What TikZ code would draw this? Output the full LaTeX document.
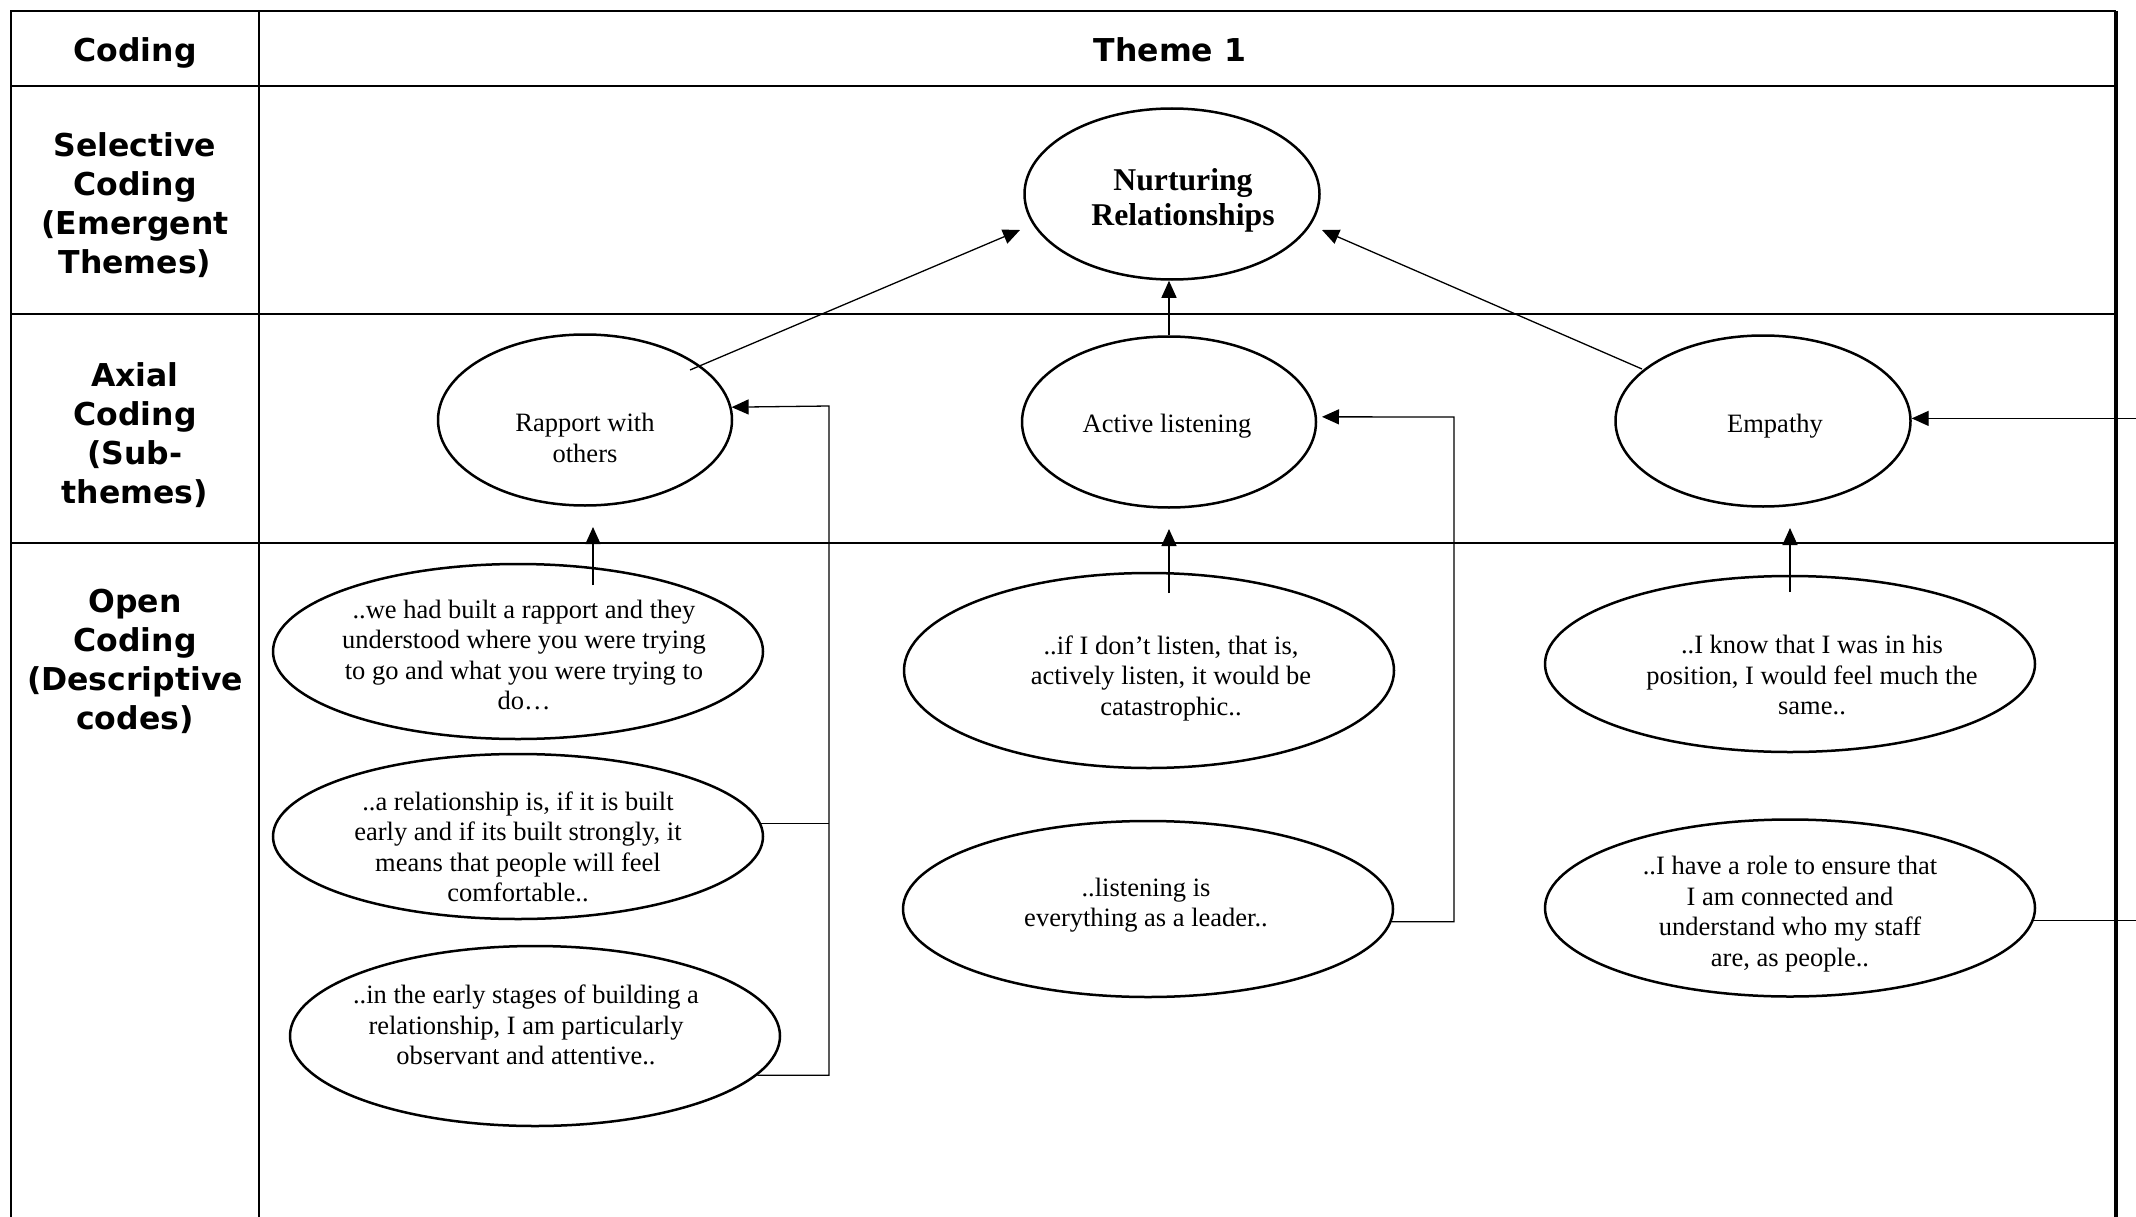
\documentclass[tikz,border=0pt]{standalone}
\usepackage{fontspec}
\setmainfont{Liberation Serif}
\newfontfamily\hdfont{DejaVu Sans}
\usetikzlibrary{shapes.geometric,arrows.meta,calc}
\tikzset{
  hd/.style={font=\hdfont\bfseries\fontsize{31.5}{39}\selectfont, align=center, inner sep=0pt},
  ell/.style={draw, ellipse, line width=2.5pt, inner sep=0pt},
  qt/.style={font=\fontsize{26.5}{30.5}\selectfont, align=center, inner sep=0pt},
  conn/.style={line width=1.3pt},
  arr/.style={conn, -{Triangle[length=17pt,width=15pt]}},
  gridline/.style={line width=2.5pt}
}
\begin{document}
\begin{tikzpicture}[x=1pt,y=-1pt]
\useasboundingbox (0,0) rectangle (2136,1217);
% table
\draw[gridline] (11,1217) -- (11,11) -- (2116,11);
\draw[gridline,line width=3.2pt] (2116,11) -- (2116,1217);
\draw[gridline] (259,11) -- (259,1217);
\draw[gridline] (11,86) -- (2116,86);
\draw[gridline] (11,314) -- (2116,314);
\draw[gridline] (11,543) -- (2116,543);
% headers
\node[hd] (hCoding) at (135,53) {Coding};
\node[hd] (hTheme) at (1170,50) {Theme 1};
\node[hd] (hSel) at (135,205) {Selective\\Coding\\(Emergent\\Themes)};
\node[hd] (hAx) at (135,435) {Axial\\Coding\\(Sub-\\themes)};
\node[hd] (hOpen) at (135,661) {Open\\Coding\\(Descriptive\\codes)};
% ellipses
\node[ell, minimum width=295pt, minimum height=171pt] (Nurt) at (1172,194) {};
\node[ell, minimum width=294pt, minimum height=171pt] (Rapport) at (585,420) {};
\node[ell, minimum width=294pt, minimum height=171pt] (Active) at (1169,422) {};
\node[ell, minimum width=295pt, minimum height=171pt] (Empathy) at (1763,421) {};
\node[ell, minimum width=490pt, minimum height=175pt] (R1) at (518,651.5) {};
\node[ell, minimum width=490pt, minimum height=165pt] (R2) at (518,836.5) {};
\node[ell, minimum width=490pt, minimum height=180pt] (R3) at (535,1036) {};
\node[ell, minimum width=490pt, minimum height=195pt] (L1) at (1149,670.5) {};
\node[ell, minimum width=490pt, minimum height=176pt] (L2) at (1148,909) {};
\node[ell, minimum width=490pt, minimum height=176pt] (E1) at (1790,664) {};
\node[ell, minimum width=490pt, minimum height=177pt] (E2) at (1790,908) {};
% texts
\node[align=center, inner sep=0pt, font=\bfseries\fontsize{31.7}{35}\selectfont] (NurtT) at (1183,200) {Nurturing\\Relationships};
\node[qt] (RapportT) at (585,438) {Rapport with\\others};
\node[qt] (ActiveT) at (1167,426) {Active listening};
\node[qt] (EmpathyT) at (1775,426) {Empathy};
\node[qt] (R1T) at (524,655) {..we had built a rapport and they\\understood where you were trying\\to go and what you were trying to\\do…};
\node[qt] (R2T) at (518,847) {..a relationship is, if it is built\\early and if its built strongly, it\\means that people will feel\\comfortable..};
\node[qt] (R3T) at (526,1025) {..in the early stages of building a\\relationship, I am particularly\\observant and attentive..};
\node[qt] (L1T) at (1171,678) {..if I don’t listen, that is,\\actively listen, it would be\\catastrophic..};
\node[qt] (L2T) at (1146,905) {..listening is\\everything as a leader..};
\node[qt] (E1T) at (1812,675) {..I know that I was in his\\position, I would feel much the\\same..};
\node[qt] (E2T) at (1790,914) {..I have a role to ensure that\\I am connected and\\understand who my staff\\are, as people..};
% connector coordinates
\coordinate (rS) at (690,370);
\coordinate (rT) at (1020,230);
\coordinate (eS) at (1642,369);
\coordinate (eT) at (1322,230);
\coordinate (r1S) at (593,585);
\coordinate (r1T) at (593,527);
\coordinate (l1S) at (1169,593);
\coordinate (l1T) at (1169,529);
\coordinate (e1S) at (1790,592);
\coordinate (e1T) at (1790,528);
\coordinate (jR) at (829,406);
\coordinate (jA) at (1454,417);
\coordinate (edgeR) at (2136,0);
% arrows to Nurturing
\draw[arr] (rS) -- (rT);
\draw[arr] (eS) -- (eT);
\draw[arr] (Active.north) -- (Active.north |- Nurt.south);
% arrows up from open codes
\draw[arr] (r1S) -- (r1T);
\draw[arr] (l1S) -- (l1T);
\draw[arr] (e1S) -- (e1T);
% side connectors
\draw[arr] (R3.-10) -| (jR) -- (Rapport.5.5);
\draw[conn] (R2.3.5) -- (R2.3.5 -| jR);
\draw[arr] (L2.-3.3) -| (jA) -- ([xshift=5pt]Active.2);
\draw[arr] (Empathy.1.5 -| edgeR) -- (Empathy.1.5);
\draw[conn] (E2.-3) -- (E2.-3 -| edgeR);
\end{tikzpicture}
\end{document}
